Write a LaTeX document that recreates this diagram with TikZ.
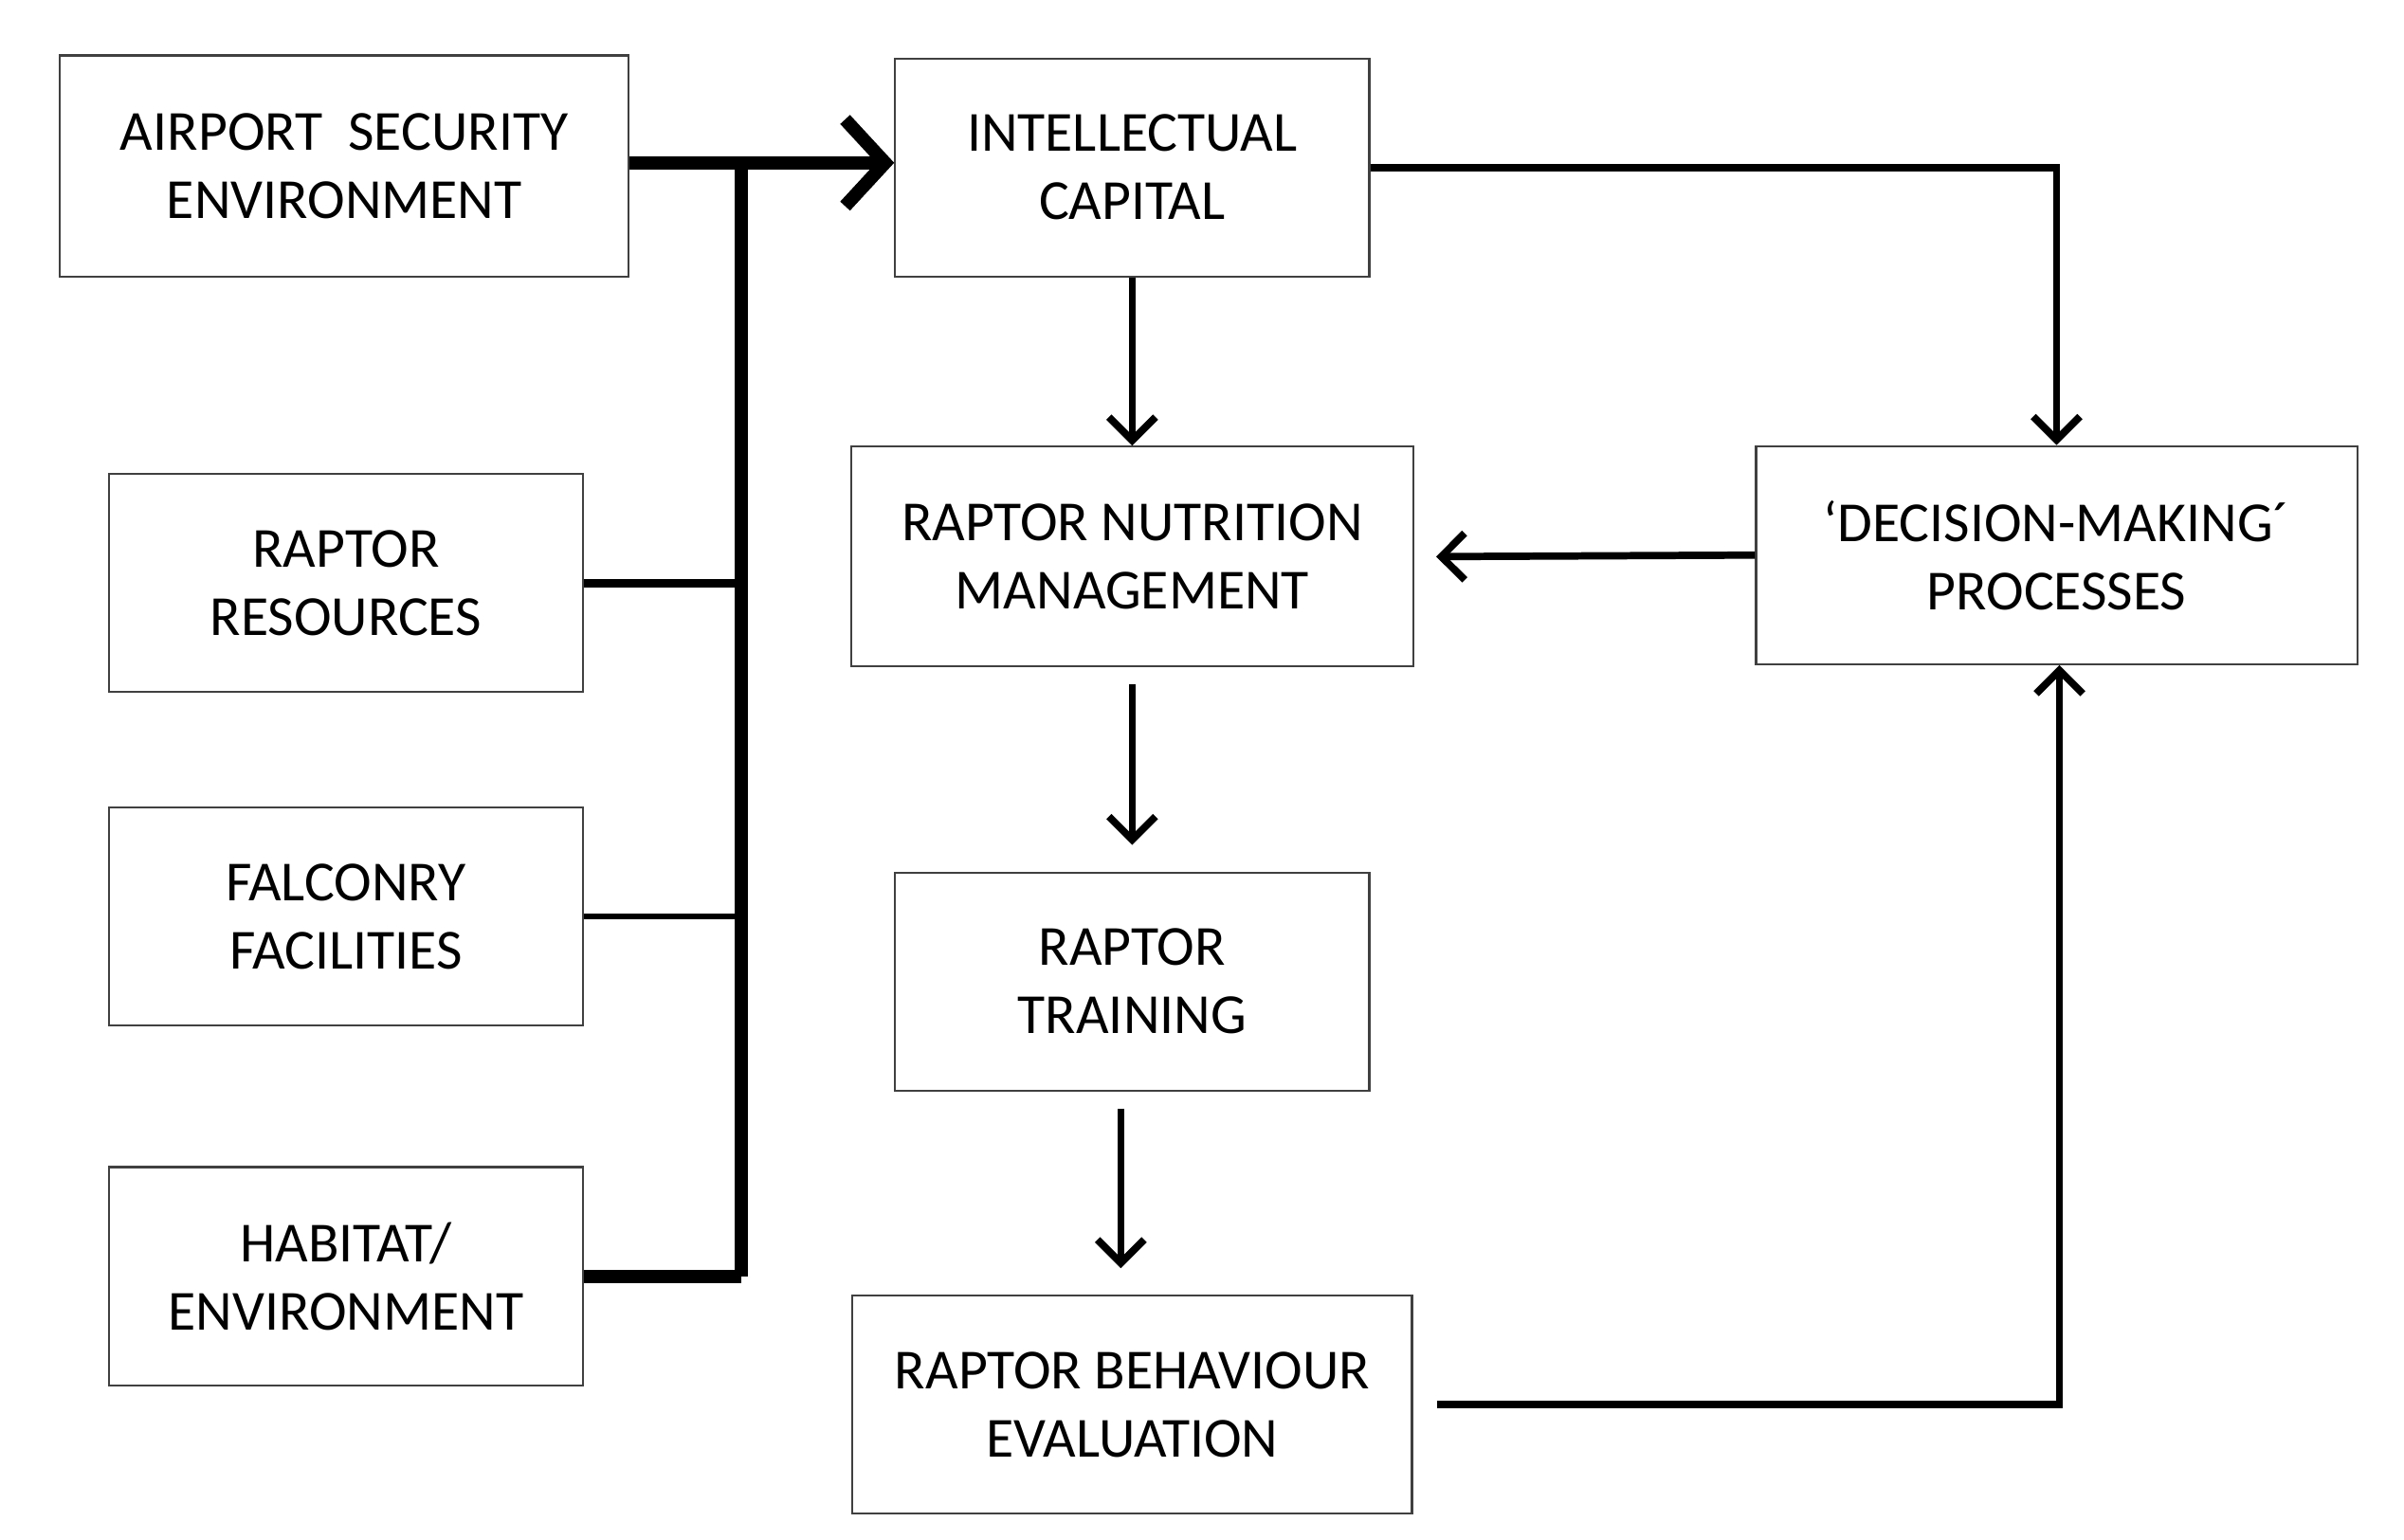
\documentclass[tikz,border=0pt]{standalone}
\usepackage{fontspec}
\setmainfont{Carlito}
\usetikzlibrary{arrows.meta}
\begin{document}
\begin{tikzpicture}[x=0.01636cm,y=-0.01636cm,
    box/.style={draw=black!75, line width=0.6pt, inner sep=0pt, align=center,
      font=\fontsize{17}{20.5}\selectfont},
    link/.style={line width=2.2pt, -{Straight Barb[length=7pt,width=14pt,line width=2.2pt]}}]
  \useasboundingbox (0,0) rectangle (1550,993);
  % boxes
  \node[box, minimum width=6.0cm, minimum height=2.33cm] (ase) at (222,107) {AIRPORT\ \ SECURITY\\ENVIRONMENT};
  \node[box, minimum width=5.0cm, minimum height=2.3cm] (ic) at (730,108) {INTELLECTUAL\\CAPITAL};
  \node[box, minimum width=5.0cm, minimum height=2.3cm] (rr) at (223,376) {RAPTOR\\RESOURCES};
  \node[box, minimum width=5.0cm, minimum height=2.3cm] (ff) at (223,591) {FALCONRY\\FACILITIES};
  \node[box, minimum width=5.0cm, minimum height=2.3cm] (he) at (223,823) {HABITAT/\\ENVIRONMENT};
  \node[box, minimum width=5.93cm, minimum height=2.32cm] (rnm) at (730,359) {RAPTOR NUTRITION\\MANAGEMENT};
  \node[box, minimum width=6.34cm, minimum height=2.3cm] (dmp) at (1326,358) {`DECISION-MAKING´\\PROCESSES};
  \node[box, minimum width=5.0cm, minimum height=2.3cm] (rt) at (730,633) {RAPTOR\\TRAINING};
  \node[box, minimum width=5.9cm, minimum height=2.3cm] (rbe) at (730,906) {RAPTOR BEHAVIOUR\\EVALUATION};
  \coordinate (top) at (478,105);
  \coordinate (bot) at (478,823);
  % inputs
  \draw[line width=4pt] (bot) -- (top);
  \draw[line width=4pt] (he.east) -- (bot);
  \draw[line width=2.5pt] (rr.east) -- (478,376);
  \draw[line width=1.5pt] (ff.east) -- (478,591);
  \draw[line width=4pt, -{Straight Barb[length=12pt,width=26pt,line width=4pt]}] (ase.east |- top) -- (ic.west |- top);
  % flow
  \draw[link] (ic.east) -| (dmp.north);
  \draw[link] (ic.south) -- (rnm.north);
  \draw[link] ([yshift=-0.18cm]rnm.south) -- ([yshift=0.28cm]rt.north);
  \draw[link] ([xshift=-0.12cm,yshift=-0.18cm]rt.south) -- ([xshift=-0.12cm,yshift=0.28cm]rbe.north);
  \draw[link] (dmp.west) -- ([xshift=0.23cm]rnm.east);
  \draw[link] ([xshift=0.25cm]rbe.east) -| ([xshift=0.03cm]dmp.south);
\end{tikzpicture}
\end{document}
